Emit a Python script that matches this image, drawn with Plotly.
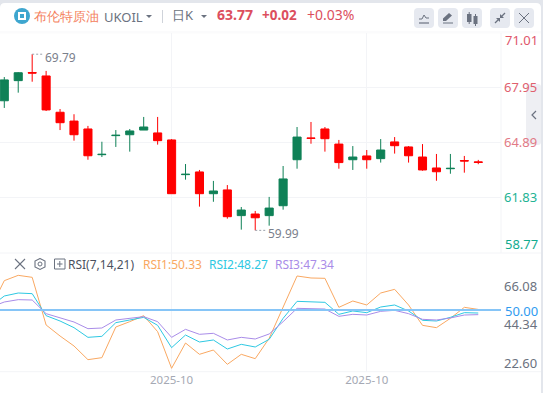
import plotly.graph_objects as go

W, H = 543, 393

# --- data ---
candle_x = list(range(35))
opens = [67.20, 68.32, 68.77, 68.58, 66.56, 66.07, 65.63, 64.20, 65.26, 65.31, 65.57, 65.41, 65.02, 63.09, 63.24, 62.03, 62.24, 60.81, 60.90, 60.81, 61.36, 63.92, 65.13, 65.63, 64.79, 63.92, 64.13, 63.98, 64.91, 64.63, 64.07, 63.46, 63.42, 63.87, 63.80]
highs = [68.52, 68.80, 69.79, 68.86, 66.74, 66.45, 65.80, 64.92, 65.57, 65.63, 66.30, 66.30, 65.07, 63.68, 63.35, 62.74, 62.51, 61.29, 61.07, 61.85, 63.57, 65.74, 66.02, 65.74, 65.02, 64.68, 64.46, 65.07, 65.18, 64.68, 64.79, 64.24, 64.24, 64.13, 63.91]
lows = [66.80, 67.65, 68.26, 66.63, 65.57, 64.98, 63.92, 64.07, 64.63, 64.37, 65.57, 64.76, 62.03, 62.81, 61.31, 61.58, 60.64, 60.03, 59.99, 60.25, 61.14, 63.42, 64.81, 64.37, 63.42, 63.35, 63.42, 63.76, 64.26, 63.76, 63.31, 62.75, 63.14, 63.20, 63.67]
closes = [68.36, 68.76, 68.74, 66.69, 65.98, 65.31, 64.14, 64.22, 65.28, 65.52, 65.74, 64.98, 62.03, 63.11, 62.03, 62.18, 60.75, 61.12, 60.69, 61.23, 62.85, 65.18, 65.11, 65.09, 63.76, 64.07, 63.92, 64.46, 64.70, 64.14, 63.35, 63.25, 63.44, 63.85, 63.77]

rsi_x = list(range(-1, 35))
rsi1 = [50.76, 66.76, 69.81, 68.67, 41.43, 35.14, 29.43, 21.62, 22.76, 40.29, 43.33, 46.76, 37.62, 16.67, 31.14, 24.67, 27.14, 18.95, 24.67, 22.19, 33.81, 51.90, 69.43, 68.29, 68.10, 51.52, 55.14, 52.86, 59.71, 61.81, 52.86, 41.24, 39.90, 45.24, 51.52, 50.33]
rsi2 = [51.90, 58.00, 59.71, 59.33, 46.76, 43.71, 39.90, 34.38, 34.95, 42.76, 44.29, 45.81, 41.24, 28.48, 35.71, 31.71, 32.86, 27.71, 30.38, 28.86, 33.24, 45.24, 54.95, 54.57, 54.38, 47.52, 49.43, 48.48, 51.71, 52.86, 49.43, 44.10, 43.71, 45.81, 48.48, 48.27]
rsi3 = [51.52, 54.57, 55.90, 55.71, 47.90, 45.62, 43.14, 39.33, 39.71, 44.29, 45.05, 46.19, 43.33, 34.38, 38.95, 36.10, 36.67, 32.86, 34.38, 33.43, 36.29, 43.33, 50.95, 50.76, 50.57, 46.38, 47.52, 47.14, 49.24, 49.81, 47.90, 44.67, 44.29, 45.43, 47.14, 47.34]

price_ticks = [67.95, 64.89, 61.83, 58.77]
price_labels = ["67.95", "64.89", "61.83", ""]
price_colors = ["#e0606e", "#e27a86", "#22b394", "#12ab8f"]
rsi_ticks = [66.08, 44.34, 22.60]
rsi_labels = ["66.08", "44.34", "22.60"]
date_ticks = [12, 26]
date_labels = ["2025-10", "2025-10"]
high_mark = (2, 69.79)
low_mark = (18, 59.99)

UP = "#0f8157"
DOWN = "#ff0000"
GRID = "#f3f4f7"
FONT = "Noto Sans, sans-serif"


def px(x):
    return x / W


def py(y):
    return 1 - y / H


def text(x, y, s, color, size=13, anchor="left", bold=False):
    return dict(xref="paper", yref="paper", x=px(x), y=py(y), text=f"<b>{s}</b>" if bold else s,
                showarrow=False, xanchor=anchor, yanchor="middle", align="left",
                font=dict(family=FONT, size=size, color=color), borderpad=0, borderwidth=0)


def rect(x0, y0, x1, y1, fill, r=0, layer="below"):
    if r:
        a, b, c, d = px(x0), px(x1), py(y0), py(y1)
        rx, ry = r / W, r / H
        path = (f"M{a+rx},{c} L{b-rx},{c} Q{b},{c} {b},{c-ry} L{b},{d+ry} Q{b},{d} {b-rx},{d} "
                f"L{a+rx},{d} Q{a},{d} {a},{d+ry} L{a},{c-ry} Q{a},{c} {a+rx},{c} Z")
        return dict(type="path", xref="paper", yref="paper", path=path, fillcolor=fill,
                    line=dict(width=0), layer=layer)
    return dict(type="rect", xref="paper", yref="paper", x0=px(x0), x1=px(x1), y0=py(y0), y1=py(y1),
                fillcolor=fill, line=dict(width=0), layer=layer)


def seg(x0, y0, x1, y1, color, w=1, layer="above", dash=None):
    return dict(type="line", xref="paper", yref="paper", x0=px(x0), x1=px(x1), y0=py(y0), y1=py(y1),
                line=dict(color=color, width=w, dash=dash or "solid"), layer=layer)


def poly(points, fill=None, color=None, w=1):
    d = "M" + " L".join(f"{px(a)},{py(b)}" for a, b in points)
    if fill:
        d += " Z"
    return dict(type="path", xref="paper", yref="paper", path=d, fillcolor=fill or "rgba(0,0,0,0)",
                line=dict(color=color or "rgba(0,0,0,0)", width=w if color else 0), layer="above")


fig = go.Figure()
fig.add_trace(go.Candlestick(
    x=candle_x, open=opens, high=highs, low=lows, close=closes, xaxis="x", yaxis="y",
    increasing=dict(line=dict(color=UP, width=1), fillcolor=UP),
    decreasing=dict(line=dict(color=DOWN, width=1), fillcolor=DOWN),
    whiskerwidth=0, showlegend=False, hoverinfo="skip"))
for vals, col in ((rsi1, "#f9a862"), (rsi2, "#2ec8e2"), (rsi3, "#a98ce8")):
    fig.add_trace(go.Scatter(x=rsi_x, y=vals, mode="lines", line=dict(color=col, width=1),
                             xaxis="x2", yaxis="y2", showlegend=False, hoverinfo="skip"))

ICON = "#6b7280"
BTN = "#e6e9f0"
shapes = [
    rect(0, 0, W, H, "#e3e6ec"),
    rect(0, 3, 541, H + 10, "#ffffff", r=5),
    rect(0, 31, 541, 33.5, "#fbfbfc"),
    # panel rules
    seg(501, 33, 501, 253, GRID, layer="below"),
    seg(0, 253, 541, 253, GRID, layer="below"),
    seg(0, 371.7, 541, 371.7, GRID, layer="below"),
    # side tab
    rect(526, 84, 541, 145, "#eeeff3", r=3),
    poly([(536, 111), (532, 115), (536, 119)], color="#6b7280", w=1.2),
    # header icon
    dict(type="circle", xref="paper", yref="paper", x0=px(14), x1=px(30), y0=py(24), y1=py(8),
         fillcolor="#3ea6cf", line=dict(width=0), layer="above"),
    rect(18, 12, 26, 20, "#ffffff", layer="above"),
    rect(20, 14, 24, 18, "#3ea6cf", layer="above"),
    poly([(146, 15), (152, 15), (149, 18)], fill="#6b7280"),
    seg(162.5, 10, 162.5, 23, "#cfd3da"),
    poly([(201, 15), (207, 15), (204, 18)], fill="#6b7280"),
]
for x0 in (414, 438, 462, 490, 514):
    shapes.append(rect(x0, 8, x0 + 20, 28, BTN, r=4, layer="above"))
shapes += [
    poly([(419, 19), (422, 19), (424, 15), (426, 18), (429, 18)], color=ICON, w=1),
    seg(419, 23, 429, 23, ICON, 1.2),
    poly([(443, 21), (443, 18.5), (449, 13), (452, 15.5), (446, 21)], fill=ICON),
    seg(443, 23, 453, 23, ICON, 1),
    rect(467, 14, 471.5, 22, ICON, layer="above"),
    rect(473.5, 16, 477.5, 24, ICON, layer="above"),
    seg(469.2, 12, 469.2, 24, ICON),
    seg(475.5, 14, 475.5, 26, ICON),
    seg(495, 23, 499, 19, ICON, 1.2),
    seg(501, 17, 505, 13, ICON, 1.2),
    poly([(496, 18), (500, 18), (500, 22)], fill=ICON),
    poly([(500, 18), (504, 18), (500, 14)], fill=ICON),
    seg(519, 13, 529, 23, ICON, 1),
    seg(529, 13, 519, 23, ICON, 1),
    # RSI toolbar
    seg(15, 259, 25, 269, ICON, 1.1),
    seg(25, 259, 15, 269, ICON, 1.1),
    poly([(40, 258.5), (45, 261), (45, 267), (40, 269.5), (35, 267), (35, 261), (40, 258.5)], color=ICON, w=1.1),
    dict(type="circle", xref="paper", yref="paper", x0=px(38), x1=px(42), y0=py(266), y1=py(262),
         line=dict(color=ICON, width=1), layer="above"),
    dict(type="rect", xref="paper", yref="paper", x0=px(54.5), x1=px(65), y0=py(269), y1=py(259),
         line=dict(color=ICON, width=1), layer="above"),
    seg(57, 264, 62.5, 264, ICON, 1),
    seg(59.8, 261, 59.8, 267, ICON, 1),
    # min / max leaders
    dict(type="line", xref="x", yref="y", x0=high_mark[0], x1=high_mark[0] + 0.75, y0=high_mark[1], y1=high_mark[1],
         line=dict(color="#9aa0aa", width=1, dash="2px,2px"), layer="above"),
    dict(type="line", xref="x", yref="y", x0=low_mark[0], x1=low_mark[0] + 0.75, y0=low_mark[1], y1=low_mark[1],
         line=dict(color="#9aa0aa", width=1, dash="2px,2px"), layer="above"),
    # 50 line
    dict(type="line", xref="x2 domain", yref="y2", x0=0, x1=1, y0=50, y1=50,
         line=dict(color="#86c5f7", width=2), layer="above"),
]

annotations = [
    text(34, 15.5, "布伦特原油", "#f4805c", 13),
    text(103.5, 17, "UKOIL", "#6b7280", 13),
    text(172, 15, "日K", "#6b7280", 13),
    text(217, 15, "63.77", "#dc4f5e", 14, bold=True),
    text(262, 15, "+0.02", "#dc4f5e", 13.5, bold=True),
    text(307, 15, "+0.03%", "#dc4f5e", 14),
    text(505, 40, "71.01", "#e0566a"),
    text(505, 244, "58.77", "#12ab8f"),
    text(505, 310.5, "50.00", "#2f9bf0"),
    text(68, 264.5, "RSI(7,14,21)", "#4b5160", 12),
    text(143, 264.5, f"RSI1:{rsi1[-1]:.2f}", "#f9a862", 12),
    text(209, 264.5, f"RSI2:{rsi2[-1]:.2f}", "#2ec8e2", 12),
    text(275, 264.5, f"RSI3:{rsi3[-1]:.2f}", "#a98ce8", 12),
    dict(xref="x", yref="y", x=high_mark[0] + 0.8, y=high_mark[1], yshift=-3, text=f"{high_mark[1]:.2f}", showarrow=False,
         xanchor="left", yanchor="middle", font=dict(family=FONT, size=12, color="#7a808c")),
    dict(xref="x", yref="y", x=low_mark[0] + 0.8, y=low_mark[1], yshift=-3, text=f"{low_mark[1]:.2f}", showarrow=False,
         xanchor="left", yanchor="middle", font=dict(family=FONT, size=12, color="#7a808c")),
]

xrange = [-0.308, 35.63]
xdomain = [0, 501 / W]
fig.update_layout(
    width=W, height=H, autosize=False, margin=dict(l=0, r=0, t=0, b=0),
    paper_bgcolor="#ffffff", plot_bgcolor="rgba(0,0,0,0)", boxgap=0.17, dragmode=False,
    shapes=shapes, annotations=annotations,
    xaxis=dict(domain=xdomain, range=xrange, anchor="y", tickmode="array", tickvals=date_ticks,
               ticktext=["", ""], showgrid=True, gridcolor=GRID, gridwidth=1, zeroline=False,
               showline=False, ticks="", rangeslider=dict(visible=False)),
    yaxis=dict(domain=[py(253), py(33)], range=[58.73, 70.97], side="right", anchor="x", tickmode="array",
               tickvals=price_ticks,
               ticktext=[f'<span style="color:{c}">{t}</span>' for t, c in zip(price_labels, price_colors)],
               tickfont=dict(family=FONT, size=13), showgrid=True, gridcolor=GRID, gridwidth=1,
               zeroline=False, showline=False, ticks="", ticklabelstandoff=2),
    xaxis2=dict(domain=xdomain, range=xrange, anchor="y2", tickmode="array", tickvals=date_ticks,
                ticktext=date_labels, tickfont=dict(family=FONT, size=11.5, color="#a5a9b4"),
                showgrid=True, gridcolor=GRID, gridwidth=1, zeroline=False, showline=False, ticks=""),
    yaxis2=dict(domain=[py(371.7), py(253)], range=[14.74, 82.57], side="right", anchor="x2", tickmode="array",
                tickvals=rsi_ticks, ticktext=rsi_labels, tickfont=dict(family=FONT, size=13, color="#6b7280"),
                showgrid=False, zeroline=False, showline=False, ticks="", ticklabelshift=5, ticklabelstandoff=2),
)
fig.write_html("out.html", config=dict(displayModeBar=False, responsive=False),
               post_script="document.body.style.margin='0';document.body.style.overflow='hidden';")
